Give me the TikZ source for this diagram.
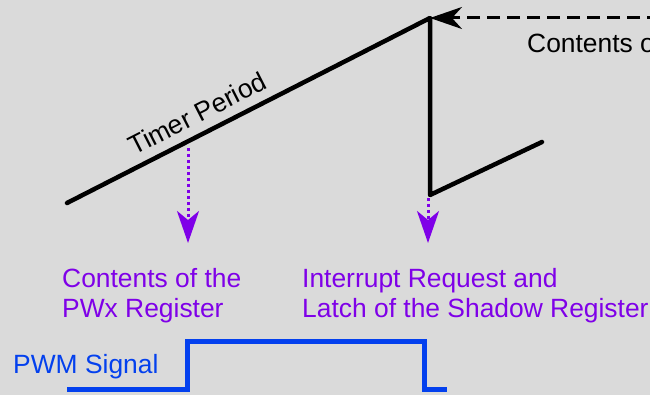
\documentclass[tikz,border=0pt]{standalone}
\usepackage{fontspec}
\setmainfont{Liberation Sans}
\usetikzlibrary{arrows.meta, calc}
\definecolor{sheet}{HTML}{DADADA}
\definecolor{note}{HTML}{7F00E8}
\definecolor{pwm}{HTML}{0340EE}
\tikzset{
x=1pt, y=-1pt,
txt/.style={font=\fontsize{26.4}{30}\selectfont, inner sep=0pt, align=left},
ramp/.style={line width=4.5pt, line cap=round, line join=round, black},
reload/.style={%
    line width=3pt, dash pattern=on 13pt off 7pt,
    -{Stealth[length=32pt,width=22pt,inset=10pt]}
},
marker/.style={%
    note, line width=3pt, dash pattern=on 3pt off 3pt,
    -{Stealth[length=32pt,width=22pt,inset=9pt]}
},
signal/.style={pwm, line width=5pt},
}

\begin{document}
\begin{tikzpicture}

\useasboundingbox (0,0) rectangle (650,395);
\clip (0,0) rectangle (650,395);
\fill[sheet] (0,0) rectangle (650,395);

% timer counter
\coordinate (start) at (67,203);
\coordinate (apex) at (430,18);
\coordinate (low) at (430,195);
\coordinate (next) at (542,142);
\coordinate (feed) at (660,18);

\draw[ramp] (start) -- node[txt, sloped, above=9pt, pos=0.385] (period) {Timer Period} (apex) -- (low) -- (next);
\draw[reload] (feed) -- (apex);
\node[txt, anchor=base west] (contents) at (527,53) {Contents of};

% compare and reload events
\coordinate (cmp) at (188,148);
\coordinate (cmptip) at (188,243);
\coordinate (irq) at (428,198);
\coordinate (irqtip) at (428,243);
\draw[marker] (cmp) -- (cmptip);
\draw[marker] (irq) -- (irqtip);

% base is the last line here
\node[txt, text=note, anchor=base west] (pwx) at (62,317) {Contents of the\\PWx Register};
\node[txt, text=note, anchor=base west] (latch) at (302,317) {Interrupt Request and\\Latch of the Shadow Register};

% output
\node[txt, text=pwm, anchor=base west] (pwmlabel) at (13,373) {PWM Signal};
\coordinate (s0) at (67,389.5);
\coordinate (s1) at (187,389.5);
\coordinate (s2) at (187,341.5);
\coordinate (s3) at (424,341.5);
\coordinate (s4) at (424,389.5);
\coordinate (s5) at (447,389.5);
\draw[signal] (s0) -- (s1) -- (s2) -- (s3) -- (s4) -- (s5);

\end{tikzpicture}
\end{document}
